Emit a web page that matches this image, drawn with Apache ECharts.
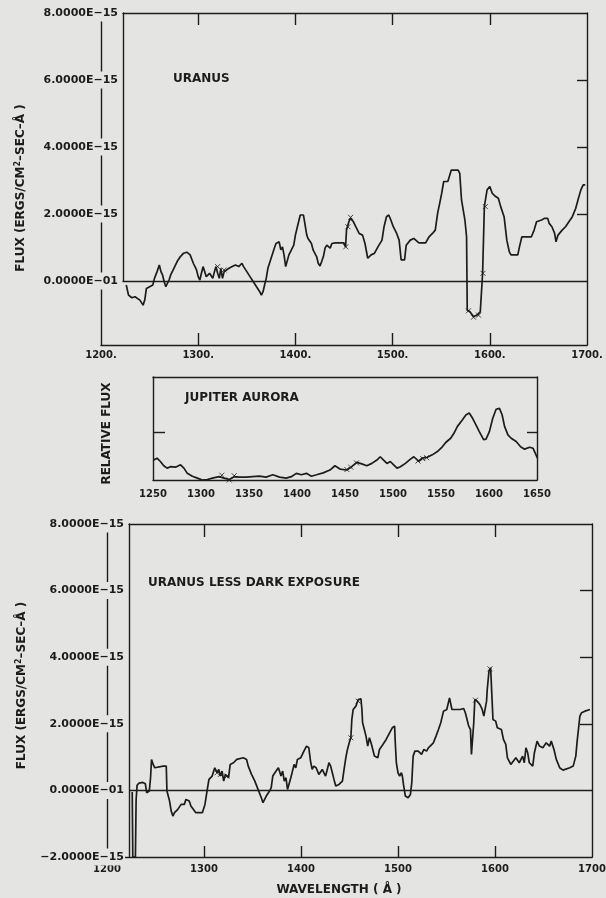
<!DOCTYPE html>
<html><head><meta charset="utf-8">
<script src="https://cdn.jsdelivr.net/npm/echarts@6/dist/echarts.min.js"></script>
<style>html,body{margin:0;padding:0;background:#e4e4e2}#c{width:606px;height:898px}</style>
</head><body><div id="c"></div>
<script>
// ---- DATA (flux in units of 1E-15 ergs/cm2-sec-A) ----
const uranusWave = [1226.0,1228.3,1231.7,1235.0,1236.7,1240.0,1243.3,1245.0,1246.7,1250.0,1253.3,1255.0,1257.7,1260.0,1261.7,1263.3,1265.0,1266.7,1268.3,1270.0,1271.7,1275.0,1278.3,1281.7,1285.0,1288.3,1291.7,1295.0,1298.3,1300.0,1301.7,1303.3,1305.0,1306.7,1308.3,1311.7,1315.0,1316.7,1318.3,1320.0,1321.7,1323.3,1325.0,1326.7,1328.3,1331.7,1335.0,1338.3,1341.7,1345.0,1346.7,1350.0,1353.3,1356.7,1360.0,1363.3,1365.0,1366.7,1368.3,1370.0,1371.7,1375.0,1378.3,1380.0,1383.3,1385.0,1386.7,1388.3,1390.0,1391.7,1393.3,1395.0,1398.3,1400.0,1403.3,1405.0,1408.3,1410.0,1411.7,1413.0,1416.5,1418.2,1421.8,1423.5,1425.3,1427.0,1428.8,1430.5,1432.3,1435.8,1437.5,1441.0,1449.8,1451.6,1452.6,1455.0,1456.8,1459.6,1462.1,1465.6,1469.1,1471.6,1474.4,1477.9,1481.4,1484.9,1489.1,1491.2,1493.7,1496.1,1498.2,1500.7,1504.2,1506.7,1508.8,1512.3,1514.0,1518.2,1521.8,1527.0,1534.0,1537.5,1541.0,1543.9,1546.3,1548.8,1550.5,1552.6,1556.8,1560.4,1562.1,1567.4,1569.1,1570.9,1574.4,1576.1,1576.8,1579.6,1583.2,1586.7,1590.2,1592.6,1594.4,1597.2,1600.0,1602.5,1606.0,1608.8,1611.2,1614.7,1617.5,1620.0,1621.8,1628.8,1630.5,1633.0,1642.8,1645.6,1648.1,1653.3,1656.1,1659.6,1661.1,1663.9,1666.7,1668.1,1670.2,1674.4,1677.9,1681.4,1684.9,1688.4,1691.2,1693.7,1696.1,1698.2];
const uranusFlux = [-0.12,-0.42,-0.50,-0.47,-0.42,-0.57,-0.72,-0.57,-0.22,-0.17,-0.12,0.08,0.28,0.48,0.28,0.18,-0.02,-0.17,-0.12,0.03,0.18,0.38,0.58,0.73,0.83,0.86,0.78,0.53,0.33,0.13,0.03,0.23,0.43,0.28,0.13,0.23,0.08,0.28,0.43,0.23,0.08,0.38,0.08,0.28,0.33,0.38,0.43,0.48,0.43,0.53,0.43,0.28,0.13,-0.02,-0.17,-0.32,-0.42,-0.32,-0.12,0.08,0.38,0.68,0.98,1.12,1.17,0.93,1.02,0.78,0.43,0.48,0.78,0.88,1.07,1.37,1.77,1.97,1.97,1.67,1.37,1.27,1.12,0.93,0.73,0.53,0.45,0.58,0.73,0.98,1.07,0.98,1.12,1.14,1.14,1.02,1.52,1.77,1.87,1.77,1.62,1.42,1.37,1.12,0.68,0.78,0.83,1.02,1.22,1.62,1.92,1.97,1.82,1.62,1.42,1.22,0.63,0.63,1.07,1.22,1.27,1.14,1.14,1.32,1.42,1.52,2.02,2.37,2.62,2.97,2.97,3.31,3.36,3.31,3.21,2.42,1.82,1.32,-0.87,-0.92,-1.06,-1.02,-0.92,0.23,2.22,2.72,2.82,2.62,2.52,2.47,2.22,1.92,1.22,0.88,0.78,0.78,1.02,1.32,1.32,1.52,1.77,1.82,1.87,1.87,1.72,1.62,1.42,1.17,1.37,1.52,1.62,1.77,1.92,2.17,2.47,2.72,2.87,2.87];
const uranusMarkWave = [1320.0,1326.7,1451.8,1454.0,1456.8,1578.0,1583.2,1588.4,1593.0,1595.4];
const uranusMarkFlux = [0.43,0.33,1.02,1.62,1.90,-0.89,-1.08,-1.02,0.23,2.22];

const jupiterWave = [1250.7,1254.2,1257.7,1261.2,1264.7,1268.2,1273.4,1278.7,1282.2,1285.7,1291.0,1296.2,1301.4,1306.6,1311.9,1318.9,1324.1,1329.4,1334.6,1339.9,1346.9,1353.8,1360.8,1367.8,1374.8,1381.8,1388.8,1394.1,1399.3,1404.5,1409.8,1415.0,1420.3,1427.3,1434.3,1439.5,1444.8,1451.7,1457.0,1462.2,1467.5,1472.7,1478.0,1483.2,1486.7,1490.2,1493.7,1497.2,1500.7,1504.2,1507.7,1512.9,1518.2,1521.7,1526.9,1530.4,1535.7,1540.9,1546.2,1551.4,1554.9,1560.1,1563.6,1567.1,1572.4,1575.9,1579.4,1582.9,1586.4,1589.9,1594.4,1596.9,1600.4,1603.9,1607.4,1610.9,1613.7,1616.2,1619.7,1623.1,1628.3,1632.9,1637.1,1642.3,1645.8,1647.6,1650.5];
const jupiterFlux = [0.42,0.46,0.39,0.30,0.25,0.28,0.27,0.32,0.25,0.14,0.08,0.04,0.00,0.01,0.04,0.07,0.04,0.01,0.07,0.06,0.06,0.07,0.08,0.06,0.11,0.06,0.04,0.07,0.14,0.11,0.14,0.08,0.11,0.15,0.21,0.30,0.23,0.21,0.28,0.37,0.34,0.30,0.35,0.42,0.49,0.42,0.35,0.39,0.32,0.25,0.28,0.35,0.44,0.49,0.39,0.46,0.48,0.53,0.60,0.70,0.79,0.88,0.99,1.13,1.27,1.37,1.41,1.30,1.16,1.02,0.85,0.86,1.02,1.30,1.49,1.51,1.37,1.13,0.95,0.88,0.81,0.70,0.65,0.69,0.67,0.63,0.46];
const jupiterMarkWave = [1321.7,1329.4,1334.6,1452.0,1456.0,1462.0,1526.0,1531.0,1535.0];
const jupiterMarkFlux = [0.10,0.00,0.09,0.22,0.27,0.36,0.40,0.45,0.47];

const darkWave = [1226.0,1226.6,1229.3,1230.0,1231.0,1233.0,1237.0,1239.5,1240.9,1243.6,1244.9,1245.9,1247.6,1249.3,1251.0,1257.8,1261.1,1261.8,1264.5,1266.2,1267.9,1269.6,1273.0,1276.4,1279.7,1281.4,1284.8,1286.5,1288.2,1291.6,1298.3,1301.0,1303.4,1305.1,1308.4,1311.1,1313.5,1315.2,1316.9,1318.6,1320.3,1322.0,1325.3,1327.0,1330.4,1333.8,1340.5,1343.9,1345.6,1349.0,1352.4,1355.7,1359.1,1360.8,1362.5,1364.2,1367.6,1369.3,1370.9,1374.3,1376.7,1379.4,1381.1,1382.8,1384.5,1386.1,1387.8,1389.5,1391.2,1392.9,1394.6,1396.3,1399.7,1403.0,1405.7,1408.1,1409.8,1411.5,1413.2,1415.6,1418.4,1420.1,1421.9,1425.3,1427.1,1428.8,1430.6,1432.3,1434.0,1435.8,1439.2,1442.7,1444.4,1446.2,1447.9,1449.7,1451.4,1452.4,1453.8,1456.6,1459.0,1461.8,1462.8,1463.5,1465.3,1467.0,1468.8,1470.5,1472.2,1474.0,1475.7,1479.2,1480.9,1484.4,1487.8,1491.3,1494.1,1496.5,1497.2,1498.3,1500.0,1501.7,1503.5,1504.5,1505.9,1507.6,1510.4,1512.8,1514.2,1515.6,1517.4,1520.8,1524.3,1526.7,1529.5,1531.3,1533.0,1536.5,1539.2,1541.7,1544.1,1546.9,1550.3,1552.1,1553.1,1554.5,1555.6,1564.2,1567.7,1569.4,1571.2,1572.9,1574.7,1575.7,1577.4,1578.1,1579.2,1581.6,1584.4,1586.8,1588.5,1590.3,1591.3,1592.0,1593.8,1595.5,1597.2,1597.9,1600.7,1602.4,1606.6,1608.7,1611.1,1612.8,1616.3,1618.1,1621.5,1625.0,1628.5,1630.2,1631.9,1633.7,1635.4,1638.9,1640.6,1643.4,1645.8,1649.3,1652.8,1656.3,1658.0,1660.8,1663.2,1666.7,1670.1,1677.1,1680.6,1683.3,1684.7,1687.5,1689.2,1692.7,1697.9];
const darkFlux = [-0.05,-2.0,-2.0,-0.30,0.15,0.22,0.24,0.20,-0.07,-0.02,0.38,0.93,0.78,0.68,0.73,0.73,0.73,-0.02,-0.32,-0.62,-0.77,-0.67,-0.57,-0.42,-0.42,-0.27,-0.32,-0.47,-0.52,-0.67,-0.67,-0.42,0.03,0.33,0.43,0.68,0.53,0.63,0.43,0.58,0.28,0.48,0.38,0.78,0.83,0.93,0.98,0.93,0.73,0.48,0.28,0.03,-0.22,-0.37,-0.32,-0.17,-0.02,0.08,0.43,0.58,0.68,0.43,0.58,0.28,0.38,0.03,-0.02,0.38,0.58,0.78,0.68,0.93,0.98,1.18,1.33,1.28,0.88,0.63,0.73,0.68,0.48,0.53,0.63,0.43,0.63,0.83,0.73,0.53,0.33,0.13,0.18,0.28,0.63,0.98,1.23,1.43,1.58,2.13,2.43,2.53,2.73,2.75,2.43,2.03,1.83,1.63,1.33,1.58,1.43,1.23,1.03,0.98,1.23,1.38,1.53,1.73,1.88,1.93,1.43,0.83,0.53,0.43,0.53,0.43,0.13,-0.17,-0.22,-0.12,0.23,1.03,1.18,1.18,1.08,1.23,1.18,1.28,1.23,1.43,1.63,1.83,2.03,2.38,2.43,2.38,2.78,2.73,2.43,2.43,2.46,2.33,2.13,1.93,1.83,1.08,1.05,2.03,2.73,2.68,2.58,2.43,2.23,2.18,2.68,3.03,3.58,3.68,3.63,2.13,2.08,1.88,1.83,1.53,1.38,0.98,0.78,0.73,0.98,0.83,1.03,0.83,1.28,1.13,0.83,0.73,1.13,1.48,1.33,1.28,1.43,1.33,1.48,1.23,0.93,0.68,0.61,0.68,0.73,1.03,1.48,2.23,2.33,2.38,2.43];
const darkMarkWave = [1313.5,1316.9,1323.6,1451.4,1459.0,1579.9,1594.8];
const darkMarkFlux = [0.53,0.48,0.43,1.58,2.68,2.71,3.65];

const waveTicks = [1300, 1400, 1500, 1600];
const fluxLabelsTop = [0, 2, 4, 6, 8];
const fluxLabelsBottom = [-2, 0, 2, 4, 6, 8];
const fluxRightTicks = [2, 4, 6];
const relTicks = [1];

// ---- STYLE / LAYOUT ----
const BG = '#e4e4e2', INK = '#1c1c1c', FONT = 'DejaVu Sans';
const W = 606, H = 898;
const T = {axL: 101, boxL: 123, R: 587, top: 13, zero: 281, bot: 345, ymin: -1.91, ymax: 8};
const B = {axL: 107, boxL: 129, R: 592, top: 524, bot: 857, ymin: -2, ymax: 8};
const M = {L: 153, R: 537, top: 377, bot: 480, ymax: 2.17};
const xminBox = (L) => 1700 - (L.R - L.boxL) / (L.R - L.axL) * 500;

const line = {show: true, onZero: false, lineStyle: {color: INK, width: 1.4}};
function yLab(v) {
  if (v === 0) return '0.0000E\u221201';
  return (v < 0 ? '\u2212' : '') + Math.abs(v).toFixed(4) + 'E\u221215';
}
const txt = {fontFamily: FONT, fontWeight: 'bold', color: INK};
const pairs = (a, b) => a.map((w, i) => [w, b[i]]);
const X_SYM = 'path://M0,0L10,10M10,0L0,10';
const gridBase = {outerBoundsMode: 'none', containLabel: false};
const supRich = {s: {fontSize: 8, fontFamily: FONT, fontWeight: 'bold', color: INK, verticalAlign: 'top', padding: [0, 0, 5, 0]}};

const option = {
  backgroundColor: BG,
  animation: false,
  title: [
    {text: 'URANUS', left: 173, top: 73, padding: 0, textStyle: Object.assign({fontSize: 12}, txt)},
    {text: 'JUPITER AURORA', left: 185, top: 392, padding: 0, textStyle: Object.assign({fontSize: 12}, txt)},
    {text: 'URANUS LESS DARK EXPOSURE', left: 148, top: 577, padding: 0, textStyle: Object.assign({fontSize: 12}, txt)}
  ],
  grid: [
    Object.assign({left: T.axL, right: W - T.R, top: T.top, height: T.bot - T.top}, gridBase),
    Object.assign({left: T.boxL, right: W - T.R, top: T.top, height: T.zero - T.top}, gridBase),
    Object.assign({left: M.L, right: W - M.R, top: M.top, height: M.bot - M.top}, gridBase),
    Object.assign({left: B.axL, right: W - B.R, top: B.top, height: B.bot - B.top}, gridBase),
    Object.assign({left: B.boxL, right: W - B.R, top: B.top, height: B.bot - B.top}, gridBase)
  ],
  xAxis: [
    {gridIndex: 0, type: 'value', position: 'bottom', min: 1200, max: 1700, interval: 100, z: 2,
     axisLine: line, splitLine: {show: false},
     axisTick: {show: true, inside: true, length: 12, customValues: waveTicks, lineStyle: {color: INK, width: 1.4}},
     axisLabel: Object.assign({fontSize: 10, margin: 5, showMinLabel: true, showMaxLabel: true, formatter: v => String(v) + '.'}, txt)},
    {gridIndex: 1, type: 'value', position: 'top', min: xminBox(T), max: 1700, z: 2,
     axisLine: line, splitLine: {show: false}, axisLabel: {show: false},
     axisTick: {show: true, inside: true, length: 12, customValues: waveTicks, lineStyle: {color: INK, width: 1.4}}},
    {gridIndex: 1, type: 'value', position: 'bottom', min: xminBox(T), max: 1700, z: 2,
     axisLine: line, splitLine: {show: false}, axisLabel: {show: false}, axisTick: {show: false}},
    {gridIndex: 2, type: 'value', position: 'bottom', min: 1250, max: 1650, interval: 50, z: 2,
     axisLine: line, splitLine: {show: false}, axisTick: {show: false},
     axisLabel: Object.assign({fontSize: 10, margin: 9, showMinLabel: true, showMaxLabel: true, formatter: v => String(v)}, txt)},
    {gridIndex: 2, type: 'value', position: 'top', min: 1250, max: 1650, z: 2,
     axisLine: line, splitLine: {show: false}, axisLabel: {show: false}, axisTick: {show: false}},
    {gridIndex: 3, type: 'value', position: 'bottom', min: 1200, max: 1700, interval: 100, z: 2,
     axisLine: line, splitLine: {show: false},
     axisTick: {show: true, inside: true, length: 11, customValues: waveTicks, lineStyle: {color: INK, width: 1.4}},
     axisLabel: Object.assign({fontSize: 10, margin: 7, showMinLabel: true, showMaxLabel: true, formatter: v => String(v)}, txt),
     name: 'WAVELENGTH ( \u00C5 )', nameLocation: 'middle', nameGap: 27,
     nameTextStyle: Object.assign({fontSize: 12, padding: [0, 21, 0, 0]}, txt)},
    {gridIndex: 4, type: 'value', position: 'top', min: xminBox(B), max: 1700, z: 2,
     axisLine: line, splitLine: {show: false}, axisLabel: {show: false},
     axisTick: {show: true, inside: true, length: 13, customValues: waveTicks, lineStyle: {color: INK, width: 1.4}}}
  ],
  yAxis: [
    {gridIndex: 0, type: 'value', position: 'left', min: T.ymin, max: T.ymax, z: 4,
     axisLine: line, splitLine: {show: false}, axisTick: {show: false},
     axisLabel: Object.assign({fontSize: 11, margin: -18, customValues: fluxLabelsTop, formatter: yLab,
       backgroundColor: BG, padding: [3, 1, 3, 1]}, txt),
     name: 'FLUX (ERGS/CM{s|2}\u2013SEC\u2013\u00C5 )', nameLocation: 'middle', nameGap: 74,
     nameTextStyle: Object.assign({fontSize: 12, padding: [0, 18, 0, 0], rich: supRich}, txt)},
    {gridIndex: 0, type: 'value', position: 'right', min: T.ymin, max: T.ymax, z: 2,
     axisLine: line, splitLine: {show: false}, axisLabel: {show: false},
     axisTick: {show: true, inside: true, length: 10, customValues: fluxRightTicks, lineStyle: {color: INK, width: 1.4}}},
    {gridIndex: 1, type: 'value', position: 'left', min: 0, max: T.ymax, z: 2,
     axisLine: line, splitLine: {show: false}, axisLabel: {show: false}, axisTick: {show: false}},
    {gridIndex: 2, type: 'value', position: 'left', min: 0, max: M.ymax, z: 2,
     axisLine: line, splitLine: {show: false}, axisLabel: {show: false},
     axisTick: {show: true, inside: true, length: 12, customValues: relTicks, lineStyle: {color: INK, width: 1.4}},
     name: 'RELATIVE FLUX', nameLocation: 'middle', nameGap: 40,
     nameTextStyle: Object.assign({fontSize: 12, padding: [0, 10, 0, 0]}, txt)},
    {gridIndex: 2, type: 'value', position: 'right', min: 0, max: M.ymax, z: 2,
     axisLine: line, splitLine: {show: false}, axisLabel: {show: false},
     axisTick: {show: true, inside: true, length: 10, customValues: relTicks, lineStyle: {color: INK, width: 1.4}}},
    {gridIndex: 3, type: 'value', position: 'left', min: B.ymin, max: B.ymax, interval: 2, z: 4,
     axisLine: line, splitLine: {show: false}, axisTick: {show: false},
     axisLabel: Object.assign({fontSize: 11, margin: -18, customValues: fluxLabelsBottom, formatter: yLab,
       backgroundColor: BG, padding: [3, 1, 3, 1]}, txt),
     name: 'FLUX (ERGS/CM{s|2}\u2013SEC\u2013\u00C5 )', nameLocation: 'middle', nameGap: 79,
     nameTextStyle: Object.assign({fontSize: 12, padding: [0, 0, 0, 10], rich: supRich}, txt)},
    {gridIndex: 3, type: 'value', position: 'right', min: B.ymin, max: B.ymax, z: 2,
     axisLine: line, splitLine: {show: false}, axisLabel: {show: false},
     axisTick: {show: true, inside: true, length: 12, customValues: fluxRightTicks, lineStyle: {color: INK, width: 1.4}}},
    {gridIndex: 4, type: 'value', position: 'left', min: B.ymin, max: B.ymax, z: 2,
     axisLine: line, splitLine: {show: false}, axisLabel: {show: false}, axisTick: {show: false}}
  ],
  series: [
    {type: 'line', xAxisIndex: 0, yAxisIndex: 0, data: pairs(uranusWave, uranusFlux), showSymbol: false,
     lineStyle: {color: INK, width: 1.7}},
    {type: 'scatter', xAxisIndex: 0, yAxisIndex: 0, data: pairs(uranusMarkWave, uranusMarkFlux), symbol: X_SYM, symbolSize: 5,
     itemStyle: {color: 'none', borderColor: INK, borderWidth: 1}},
    {type: 'line', xAxisIndex: 3, yAxisIndex: 3, data: pairs(jupiterWave, jupiterFlux), showSymbol: false,
     lineStyle: {color: INK, width: 1.7}},
    {type: 'scatter', xAxisIndex: 3, yAxisIndex: 3, data: pairs(jupiterMarkWave, jupiterMarkFlux), symbol: X_SYM, symbolSize: 5,
     itemStyle: {color: 'none', borderColor: INK, borderWidth: 1}},
    {type: 'line', xAxisIndex: 6, yAxisIndex: 7, data: pairs(darkWave, darkFlux), showSymbol: false,
     lineStyle: {color: INK, width: 1.7},
     markLine: {silent: true, symbol: 'none', label: {show: false}, lineStyle: {color: INK, width: 1.4, type: 'solid'},
       data: [{yAxis: 0}]}},
    {type: 'scatter', xAxisIndex: 6, yAxisIndex: 7, data: pairs(darkMarkWave, darkMarkFlux), symbol: X_SYM, symbolSize: 5,
     itemStyle: {color: 'none', borderColor: INK, borderWidth: 1}}
  ]
};
const chart = echarts.init(document.getElementById('c'), null, {renderer: 'canvas'});
chart.setOption(option);
</script></body></html>
